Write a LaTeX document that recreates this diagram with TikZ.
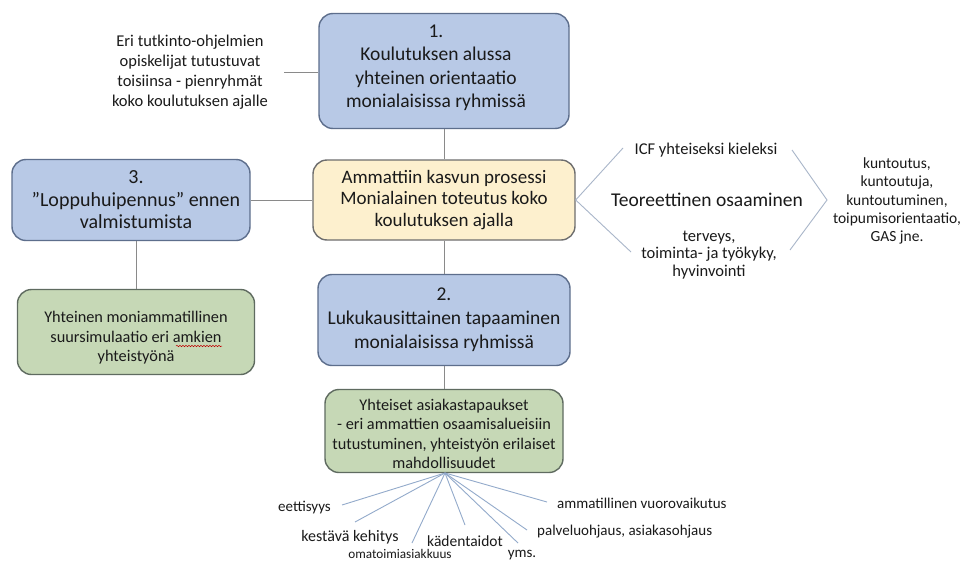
\documentclass[tikz,border=0pt]{standalone}
\usepackage{fontspec}
\setmainfont{Carlito}
\usetikzlibrary{decorations.pathmorphing}
\definecolor{bluefill}{HTML}{B8C9E6}
\definecolor{blueedge}{HTML}{5D6E8C}
\definecolor{yelfill}{HTML}{FDF0CE}
\definecolor{yeledge}{HTML}{6E6E6E}
\definecolor{grnfill}{HTML}{C6D8B6}
\definecolor{grnedge}{HTML}{5F6B60}
\definecolor{conn}{HTML}{8A8A8A}
\definecolor{fanline}{HTML}{93AACB}
\definecolor{chev}{HTML}{A9B6C9}
\definecolor{txt}{HTML}{1A1A1A}
\tikzset{
  x=1pt, y=-1pt,
  box/.style={draw, line width=1.4pt, rounded corners=14pt, align=center, text=txt, inner sep=0pt},
  bluebox/.style={box, fill=bluefill, draw=blueedge, font=\fontsize{19.5}{24}\selectfont},
  yelbox/.style={box, fill=yelfill, draw=yeledge, font=\fontsize{19}{21.5}\selectfont},
  grnbox/.style={box, fill=grnfill, draw=grnedge},
  boxtxt/.style={align=center, text=txt, inner sep=0pt},
  grntxt/.style={boxtxt, font=\fontsize{16.3}{19.5}\selectfont},
  link/.style={draw=conn, line width=0.9pt},
  fan/.style={draw=fanline, line width=0.9pt},
  smalltxt/.style={align=center, text=txt, font=\fontsize{16.5}{20}\selectfont, inner sep=0pt},
  fanlbl/.style={text=txt, font=\fontsize{15}{17}\selectfont, inner sep=0pt},
}
\begin{document}
\begin{tikzpicture}
\useasboundingbox[fill=white] (0,0) rectangle (974,565);

% main boxes
\node[bluebox, minimum width=250pt, minimum height=115pt] (b1) at (444,71) {};
\node[boxtxt, font=\fontsize{19.5}{23.5}\selectfont] (b1t) at (436,68)
  {1.\\Koulutuksen alussa\\yhteinen orientaatio\\monialaisissa ryhmissä};
\node[yelbox, minimum width=262pt, minimum height=80pt] (c) at (444,200)
  {Ammattiin kasvun prosessi\\Monialainen toteutus koko\\koulutuksen ajalla};
\node[bluebox, minimum width=238pt, minimum height=81pt] (b3) at (131,200) {};
\node[boxtxt, font=\fontsize{20}{22.5}\selectfont] (b3t) at (136,200)
  {3.\\\char"201D Loppuhuipennus\char"201D\ ennen\\valmistumista};
\node[grnbox, minimum width=237pt, minimum height=85pt] (g3) at (136,332) {};
\node[grntxt] (g3t) at (136,338)
  {Yhteinen moniammatillinen\\suursimulaatio eri amkien\\yhteistyönä};
\node[bluebox, minimum width=252pt, minimum height=91pt] (b2) at (444,320)
  {2.\\Lukukausittainen tapaaminen\\monialaisissa ryhmissä};
\node[grnbox, minimum width=238pt, minimum height=83pt] (g2) at (444,431) {};
\node[grntxt] (g2t) at (444,434)
  {Yhteiset asiakastapaukset\\- eri ammattien osaamisalueisiin\\tutustuminen, yhteistyön erilaiset\\mahdollisuudet};

% spell-check squiggle under "amkien"
\draw[red!75!black, line width=0.5pt, decorate, decoration={snake, amplitude=0.7pt, segment length=3pt}]
  (176,346) -- (222,346);

% top-left note
\node[smalltxt] (tl) at (190,72)
  {Eri tutkinto-ohjelmien\\opiskelijat tutustuvat\\toisiinsa - pienryhmät\\koko koulutuksen ajalle};
\coordinate (tlend) at (284,72);

% connectors
\draw[link] (tlend) -- (b1.west |- tlend);
\draw[link] (b1.south) -- (c.north);
\draw[link] (b3.east) -- (c.west);
\draw[link] (c.south) -- (b2.north);
\draw[link] (b2.south) -- (g2.north);
\draw[link] (b3.south -| g3.north) -- (g3.north);

% right side: theory
\coordinate (ru) at (623,148);
\coordinate (rd) at (631,252);
\draw[chev, line width=0.9pt] (ru) -- (c.east) -- (rd);
\node[text=txt, font=\fontsize{16.5}{19}\selectfont, inner sep=0pt] (icf) at (706,150) {ICF yhteiseksi kieleksi};
\node[text=txt, font=\fontsize{19.5}{22}\selectfont, inner sep=0pt] (teo) at (707,200) {Teoreettinen osaaminen};
\node[smalltxt, font=\fontsize{16.5}{17.5}\selectfont] (terv) at (709,255) {terveys,\\toiminta- ja työkyky,\\hyvinvointi};
\coordinate (ch1) at (792,150);
\coordinate (ch2) at (827,200);
\coordinate (ch3) at (790,250);
\draw[chev, line width=0.9pt] (ch1) -- (ch2) -- (ch3);
\node[smalltxt, font=\fontsize{15.5}{18.3}\selectfont] (kunt) at (897,201)
  {kuntoutus,\\kuntoutuja,\\kuntoutuminen,\\toipumisorientaatio,\\GAS jne.};

% fan from bottom green box
\coordinate (fo) at (445,473);
\node[fanlbl, anchor=east] (l1) at (331,508) {eettisyys};
\node[fanlbl, font=\fontsize{16}{18}\selectfont] (l2) at (350,537) {kestävä kehitys};
\node[fanlbl, font=\fontsize{13.2}{15}\selectfont] (l3) at (400,554) {omatoimiasiakkuus};
\node[fanlbl, font=\fontsize{15.5}{17}\selectfont] (l4) at (465,541) {kädentaidot};
\node[fanlbl] (l5) at (522,555) {yms.};
\node[fanlbl, anchor=west] (l6) at (537,532) {palveluohjaus, asiakasohjaus};
\node[fanlbl, anchor=west] (l7) at (557,503) {ammatillinen vuorovaikutus};
\coordinate (e1) at (342,505);
\coordinate (e2) at (355,522);
\coordinate (e3) at (412,543);
\coordinate (e4) at (465,525);
\coordinate (e5) at (518,543);
\coordinate (e6) at (527,530);
\coordinate (e7) at (547,502);
\foreach \e in {e1,e2,e3,e4,e5,e6,e7} \draw[fan] (fo) -- (\e);
\end{tikzpicture}
\end{document}
